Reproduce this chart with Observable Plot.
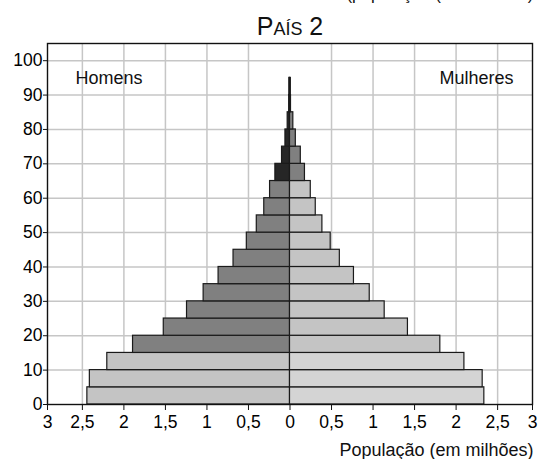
<!DOCTYPE html>
<html>
<head>
<meta charset="utf-8">
<script src="https://cdn.jsdelivr.net/npm/d3@7"></script>
<script src="https://cdn.jsdelivr.net/npm/@observablehq/plot@0.6"></script>
<style>
  html, body { margin: 0; padding: 0; background: #fff; }
  #chart { width: 545px; height: 459px; overflow: hidden; }
</style>
</head>
<body>
<div id="chart"></div>
<script>
// Age groups (start of each 5-year band)
const idades = [0, 5, 10, 15, 20, 25, 30, 35, 40, 45, 50, 55, 60, 65, 70, 75, 80, 85, 90];
// Population (millions)
const homens   = [2.44, 2.41, 2.20, 1.89, 1.52, 1.24, 1.04, 0.86, 0.68, 0.52, 0.40, 0.31, 0.24, 0.176, 0.096, 0.055, 0.028, 0.01, 0.008];
const mulheres = [2.34, 2.32, 2.10, 1.81, 1.42, 1.14, 0.96, 0.77, 0.60, 0.49, 0.39, 0.31, 0.25, 0.18, 0.13, 0.07, 0.04, 0.012, 0.01];
// Broad age classes
const classes = ["0-14", "15-64", "65+"];
const coresHomens   = ["#c4c4c4", "#808080", "#262626"];
const coresMulheres = ["#d4d4d4", "#c4c4c4", "#808080"];
// Axis ticks
const xTicks = [-2.92, -2.5, -2, -1.5, -1, -0.5, 0, 0.5, 1, 1.5, 2, 2.5, 2.92];
const xTickLabels = ["3", "2,5", "2", "1,5", "1", "0,5", "0", "0,5", "1", "1,5", "2", "2,5", "3"];
const xGrid = [-2.5, -2, -1.5, -1, -0.5, 0.5, 1, 1.5, 2, 2.5];
const yTicks = [0, 10, 20, 30, 40, 50, 60, 70, 80, 90, 100];
const yGrid = [10, 20, 30, 40, 50, 60, 70, 80, 90, 100];

const classe = (a) => a < 15 ? 0 : a < 65 ? 1 : 2;
const rows = [];
idades.forEach((a, i) => {
  rows.push({sexo: "Homens", x1: -homens[i], x2: 0, y1: a, y2: a + 5, fill: coresHomens[classe(a)]});
  rows.push({sexo: "Mulheres", x1: 0, x2: mulheres[i], y1: a, y2: a + 5, fill: coresMulheres[classe(a)]});
});

const font = "Liberation Sans, Arial, Helvetica, sans-serif";

const chart = Plot.plot({
  width: 545,
  height: 459,
  marginTop: 43,
  marginLeft: 47,
  marginRight: 13,
  marginBottom: 55,
  style: {fontFamily: font, fontSize: "17.5px", background: "white", overflow: "visible"},
  x: {domain: [-2.92, 2.92]},
  y: {domain: [0, 105]},
  marks: [
    Plot.gridX(xGrid, {stroke: "#c6c6c6", strokeOpacity: 1, strokeWidth: 1.5}),
    Plot.gridY(yGrid, {stroke: "#c6c6c6", strokeOpacity: 1, strokeWidth: 1.5}),
    Plot.rect(rows, {x1: "x1", x2: "x2", y1: "y1", y2: "y2", fill: "fill", stroke: "#1a1a1a", strokeWidth: 1.2}),
    Plot.frame({stroke: "#111", strokeWidth: 1.4}),
    Plot.axisX(xTicks, {
      tickSize: 6, tickPadding: 5, fontSize: 17.5, stroke: "#111",
      tickFormat: (d) => xTickLabels[xTicks.indexOf(d)], label: null
    }),
    Plot.axisY(yTicks, {
      tickSize: 4, tickPadding: 1, fontSize: 17.5, stroke: "#111",
      tickFormat: (d) => String(d), label: null
    }),
    Plot.text(["Homens"], {frameAnchor: "top-left", lineAnchor: "middle", dx: 28, dy: 35, textAnchor: "start", fontSize: 18, fill: "#111"}),
    Plot.text(["Mulheres"], {frameAnchor: "top-right", lineAnchor: "middle", dx: -19, dy: 35, textAnchor: "end", fontSize: 18, fill: "#111"}),
    Plot.text(["País 2"], {frameAnchor: "top", lineAnchor: "middle", dy: -17, fontSize: 25, fontVariant: "small-caps", fill: "#111"}),
    Plot.text(["População (em milhões)"], {frameAnchor: "bottom-right", lineAnchor: "middle", dy: 45.5, dx: 1, textAnchor: "end", fontSize: 18, fill: "#111"}),
    Plot.text(["(população (em milhões)"], {frameAnchor: "top-right", lineAnchor: "middle", dy: -49, dx: 1, textAnchor: "end", fontSize: 17, fill: "#111"})
  ]
});
document.getElementById("chart").appendChild(chart);
</script>
</body>
</html>
